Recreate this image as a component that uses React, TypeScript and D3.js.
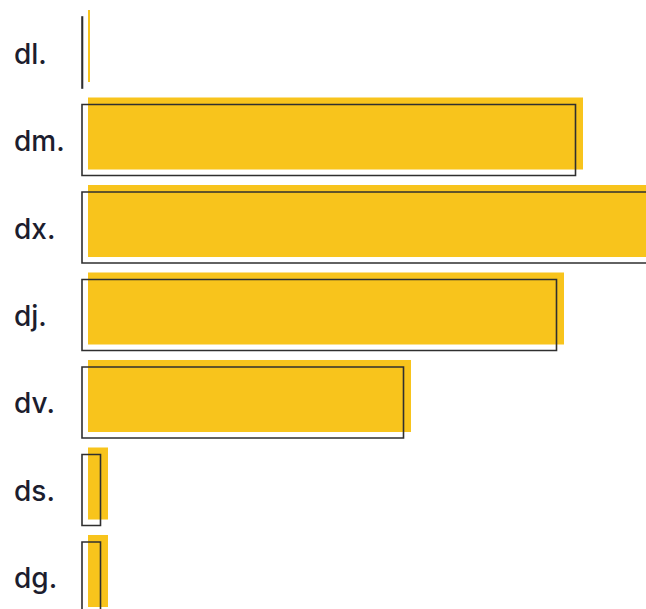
import React, { useRef, useEffect } from 'react';
import * as d3 from 'd3';

// chart data
const categories = ['dl.', 'dm.', 'dx.', 'dj.', 'dv.', 'ds.', 'dg.'];
const values = [0.4, 99, 120, 95.2, 64.6, 4, 4];

const WIDTH = 646;
const HEIGHT = 609;

const App: React.FC = () => {
  const svgRef = useRef<SVGSVGElement>(null);

  useEffect(() => {
    if (!svgRef.current) return;
    const svg = d3.select(svgRef.current);
    svg.selectAll('*').remove();

    const barLeft = 88;
    const shiftX = -6;
    const shiftY = 7;

    const yScale = d3.scaleBand<string>()
      .domain(categories)
      .range([10, 607])
      .paddingInner(0.177)
      .paddingOuter(0);

    const xScale = d3.scaleLinear()
      .domain([0, 120])
      .range([0, 600]);

    const data = categories.map((c, i) => ({ c, v: values[i] }));
    const bh = yScale.bandwidth();

    // yellow bars
    svg.append('g')
      .selectAll('rect')
      .data(data)
      .join('rect')
      .attr('x', barLeft)
      .attr('y', d => yScale(d.c) || 0)
      .attr('width', d => xScale(d.v))
      .attr('height', bh)
      .attr('fill', '#F8C41C');

    // offset outlines, drawn as paths so a zero width still shows a line
    svg.append('g')
      .selectAll('path')
      .data(data)
      .join('path')
      .attr('d', d => {
        const p = d3.path();
        const w = Math.max(0, xScale(d.v) - 1.5);
        p.rect(barLeft + shiftX, (yScale(d.c) || 0) + shiftY, w, bh - 1);
        return p.toString();
      })
      .attr('fill', 'none')
      .attr('stroke', '#2f2f2f')
      .attr('stroke-width', 1.6);

    // labels
    svg.append('g')
      .selectAll('text')
      .data(data)
      .join('text')
      .attr('x', 14)
      .attr('y', d => (yScale(d.c) || 0) + shiftY + (bh - 1) / 2 + 1)
      .attr('dominant-baseline', 'central')
      .attr('font-family', 'Inter, "Noto Sans", sans-serif')
      .attr('font-weight', 500)
      .attr('font-size', 28)
      .attr('fill', '#1c1d2e')
      .text(d => d.c);
  }, []);

  return (
    <svg
      ref={svgRef}
      width={WIDTH}
      height={HEIGHT}
      style={{ position: 'fixed', top: 0, left: 0, background: '#fff' }}
    ></svg>
  );
};

export default App;
